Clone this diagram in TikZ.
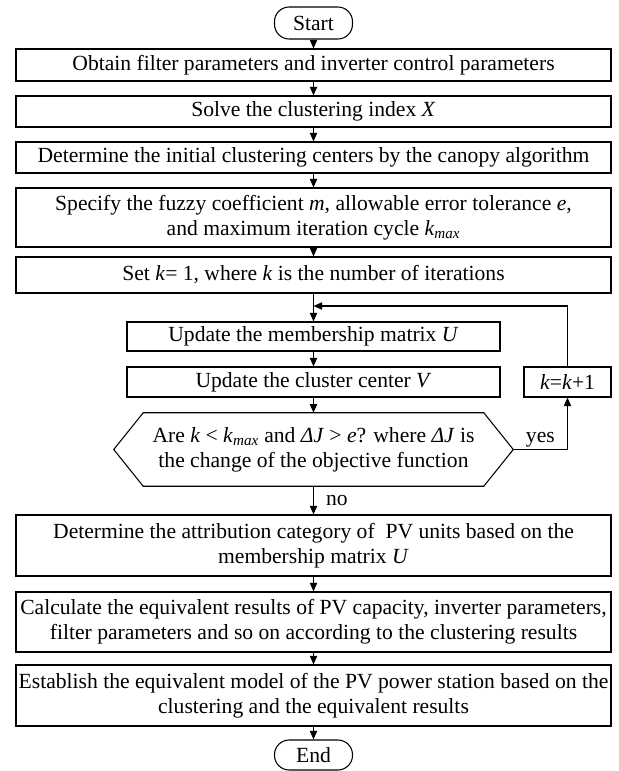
\documentclass[tikz,border=0pt]{standalone}
\usepackage{fontspec}
\setmainfont{Liberation Serif}
\usetikzlibrary{arrows.meta,calc}
\newcommand{\kmax}{\textit{k}\textsubscript{\textit{max}}}
\begin{document}
\begin{tikzpicture}[x=0.75pt,y=-0.75pt,
  txt/.style={inner sep=0pt, align=center, font=\fontsize{16.2}{18.75}\selectfont},
  box/.style={txt, draw, line width=0.8pt},
  mainbox/.style={box, minimum width=446.25pt},
  term/.style={box, rounded corners=11pt, minimum width=58.5pt},
  arr/.style={line width=0.8pt, -{Triangle[length=6.5pt,width=5.5pt]}},
  lab/.style={font=\fontsize{16.2}{18.75}\selectfont}
]
\useasboundingbox (0,0) rectangle (618,771);

\node[term, minimum height=24pt] (start) at (313.5,23) {Start};
\node[mainbox, minimum height=24pt] (b1) at (313.5,65) {Obtain filter parameters and inverter control parameters};
\node[mainbox, minimum height=23.25pt] (b2) at (313.5,111.5) {Solve the clustering index \textit{X}};
\node[mainbox, minimum height=23.25pt] (b3) at (313.5,157.5) {Determine the initial clustering centers by the canopy algorithm};
\node[mainbox, minimum height=44.25pt] (b4) at (313.5,217.5) {Specify the fuzzy coefficient \textit{m}, allowable error tolerance \textit{e},\\and maximum iteration cycle \kmax};
\node[mainbox, minimum height=27pt] (b5) at (313.5,275) {Set \textit{k}= 1, where \textit{k} is the number of iterations};
\coordinate (J) at (313.5,306);
\node[box, minimum width=279.75pt, minimum height=21.75pt] (b6) at (313.5,336.5) {Update the membership matrix \textit{U}};
\node[box, minimum width=279.75pt, minimum height=22.5pt] (b7) at (313.5,382) {Update the cluster center \textit{V}};
\node[box, minimum width=65.25pt, minimum height=22.5pt] (kb) at (567.5,382) {\textit{k}=\textit{k}+1};
\node[txt, minimum width=299.25pt, minimum height=54.75pt] (dec) at (313.5,449.5) {Are \textit{k} {\textless} \kmax{} and \textit{ΔJ} {\textgreater} \textit{e}? where \textit{ΔJ} is\\the change of the objective function};
\draw[line width=0.8pt] (dec.west) -- ($(dec.north west)+(29.5,0)$) -- ($(dec.north east)+(-29.5,0)$) -- (dec.east) -- ($(dec.south east)+(-29.5,0)$) -- ($(dec.south west)+(29.5,0)$) -- cycle;
\node[mainbox, minimum height=45.75pt] (b8) at (313.5,545.5) {Determine the attribution category of ~PV units based on the\\membership matrix \textit{U}};
\node[mainbox, minimum height=45pt] (b9) at (313.5,622) {Calculate the equivalent results of PV capacity, inverter parameters,\\filter parameters and so on according to the clustering results};
\node[mainbox, minimum height=45.75pt] (b10) at (313.5,695.5) {Establish the equivalent model of the PV power station based on the\\clustering and the equivalent results};
\node[term, minimum height=22.5pt] (end) at (313.5,755) {End};

\draw[arr] (start) -- (b1);
\draw[arr] (b1) -- (b2);
\draw[arr] (b2) -- (b3);
\draw[arr] (b3) -- (b4);
\draw[arr] (b4) -- (b5);
\draw[arr] (b5) -- (b6);
\draw[arr] (b6) -- (b7);
\draw[arr] (b7) -- (dec.south |- dec.north);
\draw[arr] (dec) -- node[right, lab, inner sep=0pt, xshift=9pt] {no} (b8);
\draw[arr] (b8) -- (b9);
\draw[arr] (b9) -- (b10);
\draw[arr] (b10) -- (end);
\draw[arr] (dec.east) -| node[pos=0.25, above, lab, inner sep=1pt] {yes} (kb.south);
\draw[arr] (kb.north) |- (J);
\end{tikzpicture}
\end{document}
